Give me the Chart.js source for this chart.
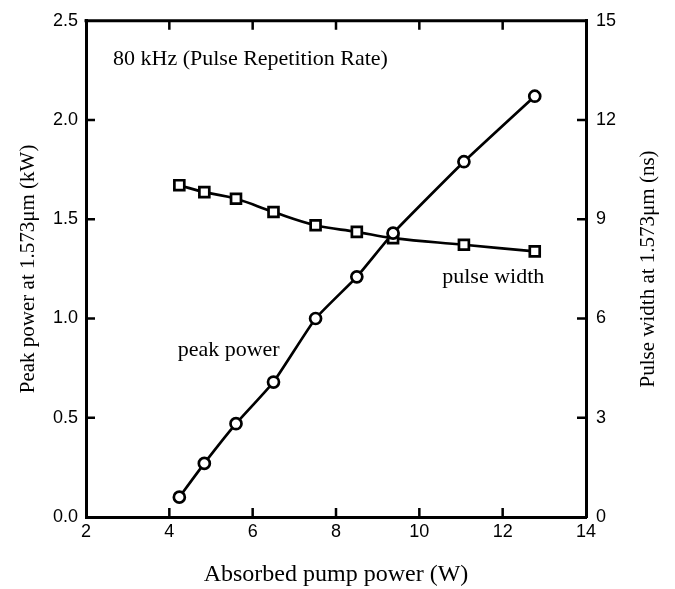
<!DOCTYPE html>
<html>
<head>
<meta charset="utf-8">
<script src="https://cdn.jsdelivr.net/npm/chart.js@4"></script>
<style>
  html, body { margin: 0; padding: 0; background: #fff; }
  #wrap { width: 675px; height: 589px; }
</style>
</head>
<body>
<div id="wrap"><canvas id="c" width="675" height="589"></canvas></div>
<script>
// absorbed pump power (W)
const pumpPower = [4.24, 4.84, 5.6, 6.5, 7.51, 8.5, 9.37, 11.07, 12.77];
// peak power at 1.573um (kW)
const peakPower = [0.10, 0.27, 0.47, 0.68, 1.00, 1.21, 1.43, 1.79, 2.12];
// pulse width at 1.573um (ns)
const pulseWidth = [10.03, 9.82, 9.62, 9.22, 8.82, 8.62, 8.43, 8.23, 8.03];

const xTicks = [2, 4, 6, 8, 10, 12, 14];
const yTicks = [0, 0.5, 1.0, 1.5, 2.0, 2.5];
const y2Ticks = [0, 3, 6, 9, 12, 15];

const serif = '"Liberation Serif", "Times New Roman", serif';
const sans = '"Liberation Sans", Arial, sans-serif';

const toPoints = (xs, ys) => xs.map((x, i) => ({ x: x, y: ys[i] }));

// inward ticks, top frame, right title and text labels
const framePlugin = {
  id: 'frame',
  afterDraw(chart) {
    const ctx = chart.ctx;
    const a = chart.chartArea;
    const sx = chart.scales.x, sy = chart.scales.y, sy2 = chart.scales.y2;
    const len = 9;
    ctx.save();
    ctx.strokeStyle = '#000';
    ctx.lineWidth = 3;
    ctx.beginPath();
    ctx.moveTo(a.left - 1.5, a.top);
    ctx.lineTo(a.right + 1.5, a.top);
    ctx.stroke();
    ctx.lineWidth = 2.5;
    ctx.beginPath();
    xTicks.slice(1, -1).forEach(v => {
      const px = sx.getPixelForValue(v);
      ctx.moveTo(px, a.bottom);
      ctx.lineTo(px, a.bottom - len);
      ctx.moveTo(px, a.top);
      ctx.lineTo(px, a.top + len);
    });
    yTicks.slice(1, -1).forEach(v => {
      const py = sy.getPixelForValue(v);
      ctx.moveTo(a.left, py);
      ctx.lineTo(a.left + len, py);
    });
    y2Ticks.slice(1, -1).forEach(v => {
      const py = sy2.getPixelForValue(v);
      ctx.moveTo(a.right, py);
      ctx.lineTo(a.right - len, py);
    });
    ctx.stroke();

    ctx.fillStyle = '#000';
    ctx.font = '22px ' + serif;
    ctx.textBaseline = 'middle';
    ctx.textAlign = 'left';
    ctx.fillText('80 kHz (Pulse Repetition Rate)', a.left + 27, a.top + 38);
    ctx.fillText('peak power', sx.getPixelForValue(4.2), sy.getPixelForValue(0.84));
    ctx.fillText('pulse width', sx.getPixelForValue(10.55), sy2.getPixelForValue(7.25));

    // right axis title reads bottom to top
    ctx.translate(648, (a.top + a.bottom) / 2);
    ctx.rotate(-Math.PI / 2);
    ctx.textAlign = 'center';
    ctx.font = '21px ' + serif;
    ctx.fillText('Pulse width at 1.573μm (ns)', 0, 0);
    ctx.restore();
  }
};

new Chart(document.getElementById('c'), {
  type: 'line',
  data: {
    datasets: [
      {
        label: 'peak power',
        data: toPoints(pumpPower, peakPower),
        yAxisID: 'y',
        borderColor: '#000',
        borderWidth: 2.7,
        tension: 0.15,
        pointStyle: 'circle',
        pointRadius: 5.5,
        pointBorderWidth: 2.7,
        pointBackgroundColor: '#fff',
        pointBorderColor: '#000'
      },
      {
        label: 'pulse width',
        data: toPoints(pumpPower, pulseWidth),
        yAxisID: 'y2',
        borderColor: '#000',
        borderWidth: 2.7,
        tension: 0.4,
        pointStyle: 'rect',
        pointRadius: 7,
        pointBorderWidth: 2.7,
        pointBackgroundColor: '#fff',
        pointBorderColor: '#000'
      }
    ]
  },
  options: {
    responsive: false,
    animation: false,
    layout: { padding: { top: 20, left: 0, right: 0, bottom: 0 } },
    plugins: { legend: { display: false }, tooltip: { enabled: false } },
    scales: {
      x: {
        type: 'linear',
        position: 'bottom',
        min: 2, max: 14,
        afterBuildTicks: s => { s.ticks = xTicks.map(v => ({ value: v })); },
        afterFit: s => { s.height = 72; },
        grid: { drawOnChartArea: false, drawTicks: false },
        border: { display: true, color: '#000', width: 3 },
        ticks: { color: '#000', font: { family: sans, size: 18 }, padding: 4, maxRotation: 0 },
        title: { display: true, text: 'Absorbed pump power (W)', color: '#000', font: { family: serif, size: 24 }, padding: { top: 0, bottom: 0 } }
      },
      y: {
        type: 'linear',
        position: 'left',
        min: 0, max: 2.5,
        afterBuildTicks: s => { s.ticks = yTicks.map(v => ({ value: v })); },
        afterFit: s => { s.width = 86; },
        grid: { drawOnChartArea: false, drawTicks: false },
        border: { display: true, color: '#000', width: 3 },
        ticks: { color: '#000', font: { family: sans, size: 18 }, padding: 8, callback: v => v.toFixed(1) },
        title: { display: true, text: 'Peak power at 1.573μm (kW)', color: '#000', font: { family: serif, size: 21 }, padding: { top: 16, bottom: 0 } }
      },
      y2: {
        type: 'linear',
        position: 'right',
        min: 0, max: 15,
        afterBuildTicks: s => { s.ticks = y2Ticks.map(v => ({ value: v })); },
        afterFit: s => { s.width = 89; },
        grid: { drawOnChartArea: false, drawTicks: false },
        border: { display: true, color: '#000', width: 3 },
        ticks: { color: '#000', font: { family: sans, size: 18 }, padding: 10 },
        title: { display: false }
      }
    }
  },
  plugins: [framePlugin]
});
</script>
</body>
</html>
